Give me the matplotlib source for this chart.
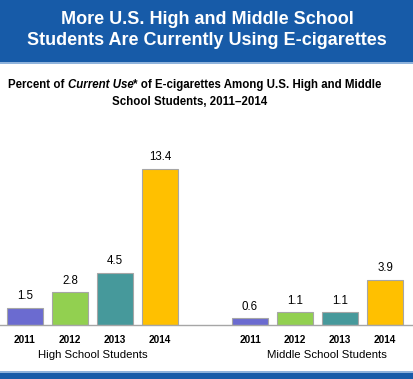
import matplotlib
matplotlib.use("Agg")
import matplotlib.pyplot as plt
from matplotlib.patches import Rectangle

# -----------------------------
# Data
# -----------------------------
YEARS = ["2011", "2012", "2013", "2014"]
HIGH_SCHOOL = [1.5, 2.8, 4.5, 13.4]
MIDDLE_SCHOOL = [0.6, 1.1, 1.1, 3.9]
GROUPS = ["High School Students", "Middle School Students"]

TITLE = "More U.S. High and Middle School\nStudents Are Currently Using E-cigarettes"
SUB_1 = "Percent of "
SUB_IT = "Current Use"
SUB_2 = "* of E-cigarettes Among U.S. High and Middle"
SUB_LINE2 = "School Students, 2011\u20132014"

COLORS = ["#6b6bd0", "#92d050", "#46999b", "#ffc000"]
BANNER = "#175ba8"
FONT = ["Liberation Sans Narrow", "Liberation Sans", "DejaVu Sans"]

W, H = 414, 379
plt.rcParams["font.family"] = FONT

fig = plt.figure(figsize=(W / 100, H / 100), dpi=100)
fig.patch.set_facecolor("white")

# banner on top + thin band at the bottom
fig.patches.append(Rectangle((0, 1 - 62 / H), 1, 62 / H, transform=fig.transFigure,
                             facecolor=BANNER, edgecolor="none"))
fig.patches.append(Rectangle((0, 1 - 63.5 / H), 1, 1.5 / H, transform=fig.transFigure,
                             facecolor="#8fb3dc", edgecolor="none"))
fig.patches.append(Rectangle((0, 0), 1, 6.5 / H, transform=fig.transFigure,
                             facecolor=BANNER, edgecolor="none"))
fig.patches.append(Rectangle((0, 6.5 / H), 1, 1.5 / H, transform=fig.transFigure,
                             facecolor="#8fb3dc", edgecolor="none"))

fig.text(0.5, 1 - 30 / H, TITLE, ha="center", va="center", color="white",
         fontsize=13, fontweight="bold", linespacing=1.3)

# subtitle with italic part
SUB_FS = 8.3
t1 = fig.text(8 / W, 1 - 85 / H, SUB_1, ha="left", va="center", fontsize=SUB_FS,
              fontweight="bold")
fig.canvas.draw()
r = fig.canvas.get_renderer()
x = 8 + t1.get_window_extent(r).width
t2 = fig.text(x / W, 1 - 85 / H, SUB_IT, ha="left", va="center", fontsize=SUB_FS,
              fontweight="bold", style="italic")
x += t2.get_window_extent(r).width
fig.text(x / W, 1 - 85 / H, SUB_2, ha="left", va="center", fontsize=SUB_FS,
         fontweight="bold")
fig.text(190 / W, 1 - 102 / H, SUB_LINE2, ha="center", va="center", fontsize=SUB_FS,
         fontweight="bold")

# -----------------------------
# Bars
# -----------------------------
base_px = 325
top_px = 150
ax = fig.add_axes([0, (H - base_px) / H, 1, (base_px - top_px) / H])
ax.set_xlim(-25 / 45, (W - 25) / 45)
ax.set_ylim(0, 15)

hs_x = [0, 1, 2, 3]
ms_x = [5, 6, 7, 8]
for xs, vals in ((hs_x, HIGH_SCHOOL), (ms_x, MIDDLE_SCHOOL)):
    ax.bar(xs, vals, width=0.8, color=COLORS, edgecolor="#a6a6a6", linewidth=0.8,
           zorder=2)
    for xi, v in zip(xs, vals):
        ax.text(xi, v + 0.45, f"{v:.1f}", ha="center", va="bottom", fontsize=8.3)

ax.set_xticks(hs_x + ms_x)
ax.set_xticklabels(YEARS + YEARS, fontsize=7.2, fontweight="bold")
ax.tick_params(axis="x", length=0, pad=7)
ax.set_yticks([])
for s in ("top", "left", "right"):
    ax.spines[s].set_visible(False)
ax.spines["bottom"].set_color("#a6a6a6")
ax.spines["bottom"].set_linewidth(1.0)
ax.patch.set_alpha(0)

ax.text(1.5, -30 / 11.7, GROUPS[0], ha="center", va="center", fontsize=8.2)
ax.text(6.7, -30 / 11.7, GROUPS[1], ha="center", va="center", fontsize=8.2)

fig.savefig("out.png", dpi=100)
